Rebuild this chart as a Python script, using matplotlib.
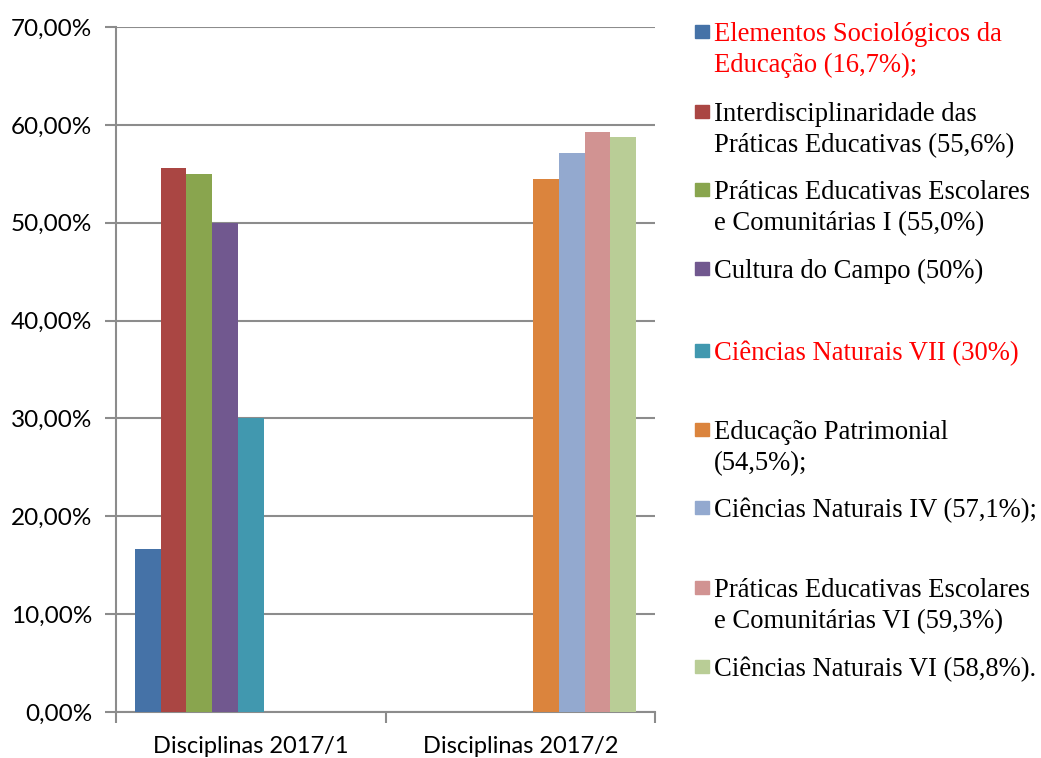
import matplotlib
matplotlib.use("Agg")
import matplotlib.pyplot as plt
import numpy as np
from matplotlib.patches import Rectangle

categories = ["Disciplinas 2017/1", "Disciplinas 2017/2"]
series_labels = [
    "Elementos Sociológicos da\nEducação (16,7%);",
    "Interdisciplinaridade das\nPráticas Educativas (55,6%)",
    "Práticas Educativas Escolares\ne Comunitárias I (55,0%)",
    "Cultura do Campo (50%)",
    "Ciências Naturais VII (30%)",
    "Educação Patrimonial\n(54,5%);",
    "Ciências Naturais IV (57,1%);",
    "Práticas Educativas Escolares\ne Comunitárias VI (59,3%)",
    "Ciências Naturais VI (58,8%).",
]
values_2017_1 = [16.7, 55.6, 55.0, 50.0, 30.0, np.nan, np.nan, np.nan, np.nan]
values_2017_2 = [np.nan, np.nan, np.nan, np.nan, np.nan, 54.5, 57.1, 59.3, 58.8]
colors = ["#4572A7", "#AA4643", "#89A54E", "#71588F", "#4198AF",
          "#DB843D", "#93A9CF", "#D19392", "#B9CD96"]
label_colors = ["red", "black", "black", "black", "red",
                "black", "black", "black", "black"]
yticks = [0, 10, 20, 30, 40, 50, 60, 70]

W, H = 1041, 758
fig = plt.figure(figsize=(W / 100, H / 100), dpi=100)
ax = fig.add_axes([116 / W, 1 - 712 / H, (655 - 116) / W, (712 - 27) / H])

n = len(series_labels)
gap = 38 / 269
bw = (1 - gap) / n
x = np.arange(len(categories))
for i in range(n):
    vals = [values_2017_1[i], values_2017_2[i]]
    ax.bar(x - 0.5 + gap / 2 + bw * i + bw / 2, vals, width=bw, color=colors[i],
           edgecolor="none", zorder=3)

ax.set_xlim(-0.5, 1.5)
ax.set_ylim(0, 70)
ax.set_yticks(yticks)
ax.set_yticklabels([f"{v},00%" for v in yticks], fontfamily="Lato", fontsize=17.5)
ax.yaxis.grid(True, color="#8c8c8c", linewidth=1.5, zorder=0)
ax.set_xticks([-0.5, 0.5, 1.5])
ax.set_xticklabels([])
ax.set_xticks(x, minor=True)
ax.set_xticklabels(categories, minor=True, fontfamily="Lato", fontsize=17)
ax.tick_params(axis="x", which="minor", length=0, pad=17)
ax.tick_params(axis="x", which="major", length=8, width=1.5, color="#8c8c8c")
ax.tick_params(axis="y", length=8, width=1.5, color="#8c8c8c", pad=9)
for s in ["top", "right"]:
    ax.spines[s].set_visible(False)
for s in ["left", "bottom"]:
    ax.spines[s].set_color("#8c8c8c")
    ax.spines[s].set_linewidth(1.5)

# legend (baselines of each text line, in pixels from top)
legend_baselines = [[41, 72], [121, 152], [199, 230], [278], [360],
                    [439, 470], [517], [597, 628], [676]]
for i in range(n):
    lines = series_labels[i].split("\n")
    b0 = legend_baselines[i][0]
    fig.patches.append(Rectangle((695 / W, 1 - (b0 - 3) / H), 14 / W, 13 / H,
                                 transform=fig.transFigure, color=colors[i]))
    for line, b in zip(lines, legend_baselines[i]):
        fig.text(714 / W, 1 - b / H, line, ha="left", va="baseline",
                 fontfamily="Liberation Serif", fontsize=19.2,
                 color=label_colors[i])

fig.savefig("out.png", dpi=100)
